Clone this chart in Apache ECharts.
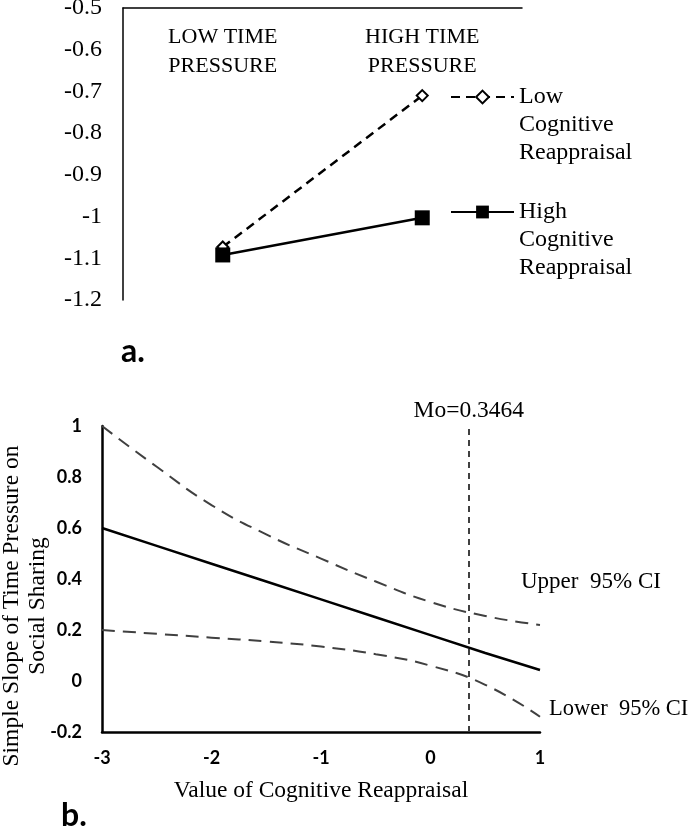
<!DOCTYPE html>
<html><head><meta charset="utf-8">
<script src="https://cdn.jsdelivr.net/npm/echarts@6/dist/echarts.min.js"></script>
<style>html,body{margin:0;padding:0;background:#fff}#c{width:691px;height:834px}</style>
</head><body><div id="c"></div>
<script>
// ---- Panel a data ----
const aCategories = ['LOW TIME\nPRESSURE', 'HIGH TIME\nPRESSURE'];
const aSeriesNames = ['Low\nCognitive\nReappraisal', 'High\nCognitive\nReappraisal'];
const aLowCR = [-1.073, -0.71];
const aHighCR = [-1.092, -1.003];
const aYMin = -1.2, aYMax = -0.5, aYStep = 0.1;

// ---- Panel b data ----
const bX = [-3, -2.5, -2, -1.5, -1, -0.5, 0, 0.5, 1];
const bSlope = [0.6, 0.53, 0.46, 0.39, 0.32, 0.25, 0.18, 0.11, 0.043];
const bUpper = [1.0, 0.84, 0.69, 0.575, 0.48, 0.39, 0.31, 0.255, 0.22];
const bLower = [0.2, 0.185, 0.17, 0.155, 0.135, 0.105, 0.06, -0.015, -0.14];
const bMo = 0.3464;
const bXMin = -3, bXMax = 1, bXStep = 1;
const bYMin = -0.2, bYMax = 1, bYStep = 0.2;

const serif = 'Liberation Serif';
const fmt1 = v => String(Math.round(v * 10) / 10);
const pairs = ys => bX.map((x, i) => [x, ys[i]]);

const chart = echarts.init(document.getElementById('c'));
chart.setOption({
  animation: false,
  backgroundColor: '#fff',
  title: [
    {text: 'a.', left: 121, top: 336, padding: 0, textStyle: {fontFamily: 'Lato', fontWeight: 'bold', fontSize: 32, color: '#000'}},
    {text: 'b.', left: 61, top: 800, padding: 0, textStyle: {fontFamily: 'Lato', fontWeight: 'bold', fontSize: 32, color: '#000'}}
  ],
  grid: [
    {left: 123, right: 169, top: 8, height: 292, containLabel: false, outerBoundsMode: 'none'},
    {left: 102, right: 151, top: 426, height: 306, containLabel: false, outerBoundsMode: 'none'}
  ],
  legend: {
    orient: 'vertical', left: 450, top: 27, padding: 0,
    itemWidth: 63, itemHeight: 16, itemGap: -25,
    data: aSeriesNames,
    formatter: name => '\n\n' + name,
    textStyle: {fontFamily: serif, fontSize: 24, lineHeight: 28, color: '#000'}
  },
  xAxis: [
    {
      gridIndex: 0, type: 'category', data: aCategories, position: 'top',
      axisLine: {show: true, lineStyle: {color: '#000', width: 1.5}},
      axisTick: {show: false}, splitLine: {show: false},
      axisLabel: {inside: true, margin: 15, fontFamily: serif, fontSize: 22, lineHeight: 29, color: '#000'}
    },
    {
      gridIndex: 1, type: 'value', min: bXMin, max: bXMax, interval: bXStep,
      axisLine: {show: true, onZero: false, lineStyle: {color: '#000', width: 2.5}},
      axisTick: {show: false}, splitLine: {show: false},
      axisLabel: {margin: 17, fontFamily: 'Lato', fontWeight: 'bold', fontSize: 18, color: '#000'},
      name: 'Value of Cognitive Reappraisal', nameLocation: 'middle', nameGap: 47,
      nameTextStyle: {fontFamily: serif, fontSize: 23.5, color: '#000'}
    }
  ],
  yAxis: [
    {
      gridIndex: 0, type: 'value', min: aYMin, max: aYMax, interval: aYStep,
      axisLine: {show: true, onZero: false, lineStyle: {color: '#000', width: 1.5}},
      axisTick: {show: false}, splitLine: {show: false},
      axisLabel: {margin: 21, padding: [4, 0, 0, 0], fontFamily: serif, fontSize: 24, color: '#000', formatter: fmt1}
    },
    {
      gridIndex: 1, type: 'value', min: bYMin, max: bYMax, interval: bYStep,
      axisLine: {show: true, onZero: false, lineStyle: {color: '#000', width: 2.5}},
      axisTick: {show: false}, splitLine: {show: false},
      axisLabel: {margin: 20, fontFamily: 'Lato', fontWeight: 'bold', fontSize: 18, color: '#000', formatter: fmt1},
      name: 'Simple Slope of Time Pressure on\nSocial Sharing', nameLocation: 'middle', nameRotate: 90, nameGap: 51,
      nameMoveOverlap: false,
      nameTextStyle: {fontFamily: serif, fontSize: 23.5, lineHeight: 26, color: '#000', padding: [0, 54, 0, 0]}
    }
  ],
  series: [
    {
      name: aSeriesNames[0], type: 'line', xAxisIndex: 0, yAxisIndex: 0, data: aLowCR,
      symbol: 'diamond', symbolSize: 11,
      itemStyle: {color: '#fff', borderColor: '#000', borderWidth: 2},
      lineStyle: {color: '#000', width: 2.5, type: [9, 6]}
    },
    {
      name: aSeriesNames[1], type: 'line', xAxisIndex: 0, yAxisIndex: 0, data: aHighCR,
      symbol: 'rect', symbolSize: 15,
      itemStyle: {color: '#000'},
      lineStyle: {color: '#000', width: 2.5}
    },
    {
      name: 'Simple slope', type: 'line', xAxisIndex: 1, yAxisIndex: 1, data: pairs(bSlope),
      showSymbol: false, symbol: 'none',
      lineStyle: {color: '#000', width: 2.5},
      markLine: {
        silent: true, symbol: 'none', animation: false,
        lineStyle: {color: '#404040', width: 2, type: [6, 5]},
        label: {show: true, position: 'end', distance: 3, formatter: 'Mo=0.3464', fontFamily: serif, fontSize: 23.5, color: '#000'},
        data: [{xAxis: bMo}]
      }
    },
    {
      name: 'Upper 95% CI', type: 'line', xAxisIndex: 1, yAxisIndex: 1, data: pairs(bUpper),
      smooth: true, showSymbol: false, symbol: 'none',
      lineStyle: {color: '#404040', width: 2, type: [13, 8]},
      endLabel: {show: true, formatter: 'Upper  95% CI', offset: [-27, -43], fontFamily: serif, fontSize: 23, color: '#000'}
    },
    {
      name: 'Lower 95% CI', type: 'line', xAxisIndex: 1, yAxisIndex: 1, data: pairs(bLower),
      smooth: true, showSymbol: false, symbol: 'none',
      lineStyle: {color: '#404040', width: 2, type: [13, 8]},
      endLabel: {show: true, formatter: 'Lower  95% CI', offset: [1, -8], fontFamily: serif, fontSize: 22.5, color: '#000'}
    }
  ]
});
</script>
</body></html>
